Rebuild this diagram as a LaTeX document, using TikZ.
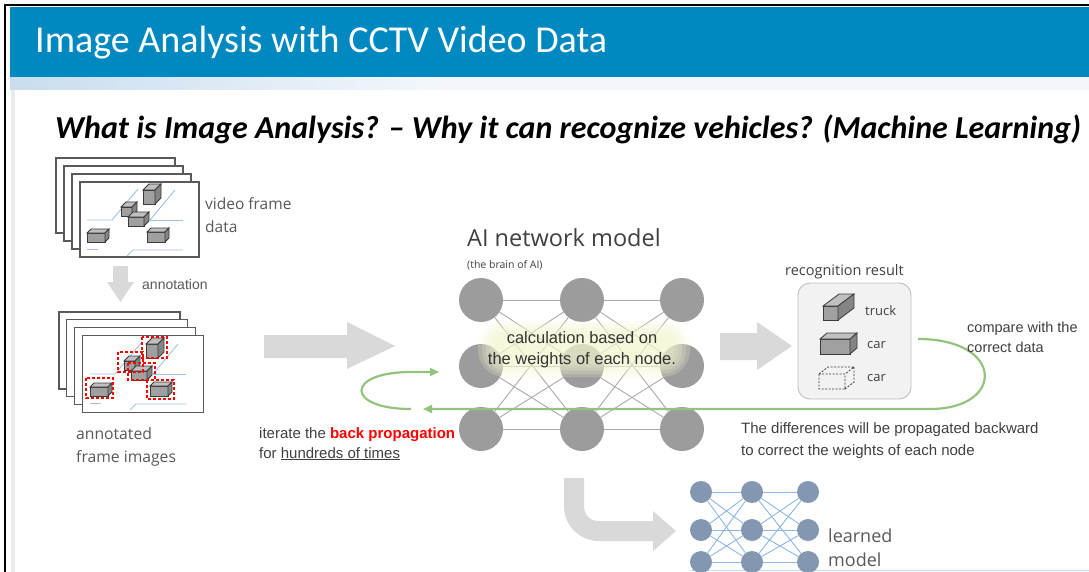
\documentclass[tikz,border=0pt]{standalone}
\usepackage{fontspec}
\setmainfont{Carlito}
\newfontfamily\osans{Open Sans}
\newfontfamily\arial{Liberation Sans}
\usetikzlibrary{arrows.meta}

\definecolor{hdrblue}{HTML}{0089C1}
\definecolor{hdrfade}{HTML}{93BDE0}
\definecolor{hdrlight}{HTML}{F3F7FB}
\definecolor{framegray}{HTML}{595959}
\definecolor{roadblue}{HTML}{9DC3E6}
\definecolor{arrowgray}{HTML}{D9D9D9}
\definecolor{loopgreen}{HTML}{93C47D}
\definecolor{nodegray}{HTML}{9C9C9C}
\definecolor{edgegray}{HTML}{ABABAB}
\definecolor{lmblue}{HTML}{8497B0}
\definecolor{lmedge}{HTML}{8DB8E6}
\definecolor{txtgray}{HTML}{595959}
\definecolor{darktxt}{HTML}{404040}
\definecolor{cubefront}{HTML}{A0A0A0}
\definecolor{cubetop}{HTML}{C0C0C0}
\definecolor{cubeside}{HTML}{858585}
\definecolor{cubeline}{HTML}{3A3A3A}
\definecolor{glowyellow}{HTML}{F6F6D0}
\definecolor{resultfill}{HTML}{F2F2F2}
\definecolor{resultline}{HTML}{BFBFBF}

\pgfdeclarehorizontalshading{hdrstrip}{100bp}{color(0bp)=(hdrfade); color(45bp)=(hdrlight); color(100bp)=(hdrlight)}

\tikzset{
  frame/.style={draw=framegray, fill=white, line width=1.1pt},
  road/.style={draw=roadblue, line width=0.9pt},
  redbox/.style={draw=red, line width=1.3pt, dash pattern=on 3pt off 2pt},
  greenloop/.style={draw=loopgreen, line width=2.2pt, -{Triangle[length=9pt,width=8pt]}},
  ainode/.style={circle, fill=nodegray, minimum size=44pt, inner sep=0pt},
  aiedge/.style={draw=edgegray, line width=0.9pt},
  lmnode/.style={circle, fill=lmblue, minimum size=22pt, inner sep=0pt},
  lmline/.style={draw=lmedge, line width=0.9pt},
  lbl/.style={inner sep=0pt, anchor=base west},
  pics/box3d/.style n args={4}{code={
    \filldraw[fill=cubefront, draw=cubeline, line width=0.8pt] (0,0) rectangle (#1,#2);
    \filldraw[fill=cubetop, draw=cubeline, line width=0.8pt]
      (0,0) -- (#3,-#4) -- ({#1+#3},-#4) -- (#1,0) -- cycle;
    \filldraw[fill=cubeside, draw=cubeline, line width=0.8pt]
      (#1,0) -- ({#1+#3},-#4) -- ({#1+#3},{#2-#4}) -- (#1,#2) -- cycle;
  }},
  pics/box3dghost/.style n args={4}{code={
    \draw[cubeline, line width=0.8pt, dash pattern=on 2pt off 1.5pt]
      (0,0) rectangle (#1,#2)
      (0,0) -- (#3,-#4) -- ({#1+#3},-#4) -- (#1,0)
      ({#1+#3},-#4) -- ({#1+#3},{#2-#4}) -- (#1,#2);
  }},
  pics/framescene/.style={code={
    \draw[road] (7,38) -- (32,38) -- (58,7);
    \draw[road] (70,38) -- (103,38);
    \draw[road] (70,38) -- (95,8);
    \draw[road] (7,67) -- (18,67);
    \draw[road] (47,74) -- (53,68) -- (103,68);
    \pic at (63,8) {box3d={12}{14}{6}{6}};
    \pic at (41,25) {box3d={11}{9}{5}{5}};
    \pic at (48,35) {box3d={16}{9}{5}{5}};
    \pic at (7,51) {box3d={18}{9}{4}{4}};
    \pic at (67,50) {box3d={18}{10}{4}{4}};
  }},
}

\begin{document}
\begin{tikzpicture}[x=1pt, y=-1pt]
\useasboundingbox (0,0) rectangle (1089,572);
\fill[white] (0,0) rectangle (1089,572);

% slide header
\fill[hdrblue] (10,7) rectangle (1089,78.5);
\shade[shading=hdrstrip] (10,78) rectangle (1089,90);
\fill[black!8] (11,90) rectangle (15,572);
\draw[black, line width=1.6pt] (5,572) -- (5,5) -- (1089,5);
\draw[roadblue!60, line width=1pt] (690,570.5) -- (1089,570.5);

\node[lbl, text=white, font=\fontsize{38}{42}\selectfont] (title) at (35,53)
  {Image Analysis with CCTV Video Data};
\node[lbl, font=\fontsize{32}{36}\selectfont\bfseries\itshape] (subtitle) at (55,139)
  {What is Image Analysis? – Why it can recognize vehicles? (Machine Learning)};

% raw video frames
\foreach \k in {0,1,2,3}
  \draw[frame] ({56+8*\k},{158+8*\k}) rectangle ++(119,75);
\pic at (80,182) {framescene};
\node[lbl, text=txtgray, font=\osans\fontsize{15.5}{18}\selectfont] (vf1) at (205,209) {video frame};
\node[lbl, text=txtgray, font=\osans\fontsize{15.5}{18}\selectfont] (vf2) at (205,232) {data};

% annotation step
\fill[arrowgray] (113,266) rectangle (128,283);
\fill[arrowgray] (107,282) -- (134,282) -- (120.5,302) -- cycle;
\node[lbl, text=txtgray, font=\arial\fontsize{14}{16}\selectfont] (ann) at (142,289) {annotation};

% annotated frames
\foreach \k in {0,1,2,3}
  \draw[frame] ({59+7.7*\k},{312+7.7*\k}) rectangle ++(121,77);
\begin{scope}[shift={(82,335)}]
  \pic at (1,1) {framescene};
  \draw[redbox] (60,2) rectangle (85,23);
  \draw[redbox] (36,17) rectangle (61,37);
  \draw[redbox] (46,28) rectangle (73,45);
  \draw[redbox] (4,43) rectangle (31,63);
  \draw[redbox] (65,45) rectangle (92,64);
\end{scope}
\node[lbl, text=txtgray, font=\osans\fontsize{15.7}{18}\selectfont] (af1) at (76,439) {annotated};
\node[lbl, text=txtgray, font=\osans\fontsize{15.7}{18}\selectfont] (af2) at (76,462) {frame images};

% input arrow
\fill[arrowgray] (264,335) -- (347,335) -- (347,322) -- (395,346) -- (347,369) -- (347,358) -- (264,358) -- cycle;

% AI network
\node[lbl, text=darktxt, font=\osans\fontsize{23.5}{26}\selectfont] (aititle) at (467,246) {AI network model};
\node[lbl, text=darktxt, font=\osans\fontsize{10.5}{12}\selectfont] (aisub) at (467,268) {(the brain of AI)};
\foreach \c/\x in {1/481,2/582,3/682}
  \foreach \r/\y in {1/300,2/366,3/429}
    \node[ainode] (a\c\r) at (\x,\y) {};
\foreach \c/\d in {1/2,2/3}
  \foreach \r in {1,2,3}
    \foreach \s in {1,2,3}
      \draw[aiedge] (a\c\r) -- (a\d\s);
\foreach \i in {0,4,8,12,16}
  \fill[glowyellow, opacity=0.22, rounded corners={27-\i}]
    ({478+\i},{321+\i*0.8}) rectangle ({690-\i},{377-\i*0.8});
\node[anchor=base, inner sep=0pt, text=black!80, font=\arial\fontsize{16.5}{19}\selectfont] (calc1) at (582,343) {calculation based on};
\node[anchor=base, inner sep=0pt, text=black!80, font=\arial\fontsize{16.5}{19}\selectfont] (calc2) at (582,364) {the weights of each node.};

% output arrow
\fill[arrowgray] (720,333) -- (757,333) -- (757,322) -- (792,346) -- (757,370) -- (757,360) -- (720,360) -- cycle;

% recognition result
\node[lbl, text=darktxt, font=\osans\fontsize{14.5}{17}\selectfont] (rr) at (785,275) {recognition result};
\node[draw=resultline, fill=resultfill, rounded corners=12pt, minimum width=113pt, minimum height=116pt, line width=0.9pt] (result) at (854.5,341) {};
\pic at (823,306) {box3d={15}{14}{16}{12}};
\pic at (820,339) {box3d={30}{15}{7}{6}};
\pic at (819,374) {box3dghost={26}{15}{9}{7}};
\node[lbl, text=darktxt, font=\osans\fontsize{13}{15}\selectfont] (tk) at (865,315) {truck};
\node[lbl, text=darktxt, font=\osans\fontsize{13}{15}\selectfont] (car1) at (867,348) {car};
\node[lbl, text=darktxt, font=\osans\fontsize{13}{15}\selectfont] (car2) at (867,381) {car};

% back propagation loops
\coordinate (fbstart) at (918,339);
\coordinate (fbend) at (423,409);
\draw[greenloop] (fbstart) .. controls (1005,339) and (1005,409) .. (930,409) -- (fbend);
\coordinate (itstart) at (411,409);
\coordinate (itend) at (439,372);
\draw[greenloop] (itstart) .. controls (345,409) and (345,372) .. (411,372) -- (itend);

\node[lbl, text=darktxt, font=\arial\fontsize{14.5}{17}\selectfont] (cmp1) at (967,332) {compare with the};
\node[lbl, text=darktxt, font=\arial\fontsize{14.5}{17}\selectfont] (cmp2) at (967,352) {correct data};
\node[lbl, text=darktxt, font=\arial\fontsize{15}{17}\selectfont] (diff1) at (741,433) {The differences will be propagated backward};
\node[lbl, text=darktxt, font=\arial\fontsize{15}{17}\selectfont] (diff2) at (741,455) {to correct the weights of each node};
\node[lbl, text=darktxt, font=\arial\fontsize{15}{17}\selectfont] (it1) at (259,438) {iterate the \textcolor{red}{\bfseries back propagation}};
\node[lbl, text=darktxt, font=\arial\fontsize{15}{17}\selectfont] (it2) at (259,458) {for \underline{hundreds of times}};

% learned model
\fill[arrowgray] (564,478) -- (564,506) .. controls (564,526) and (580,541) .. (599,541)
  -- (653,541) -- (653,551) -- (676,531) -- (653,511) -- (653,521) -- (599,521)
  .. controls (590,521) and (584,515) .. (584,506) -- (584,478) -- cycle;
\foreach \c/\x in {1/701,2/752,3/808}
  \foreach \r/\y in {1/492,2/530,3/562}
    \node[lmnode] (m\c\r) at (\x,\y) {};
\foreach \c/\d in {1/2,2/3}
  \foreach \r in {1,2,3}
    \foreach \s in {1,2,3}
      \draw[lmline] (m\c\r) -- (m\d\s);
\node[lbl, text=txtgray, font=\osans\fontsize{18}{20}\selectfont] (lm1) at (828,542) {learned};
\node[lbl, text=txtgray, font=\osans\fontsize{18}{20}\selectfont] (lm2) at (828,566) {model};
\end{tikzpicture}
\end{document}
